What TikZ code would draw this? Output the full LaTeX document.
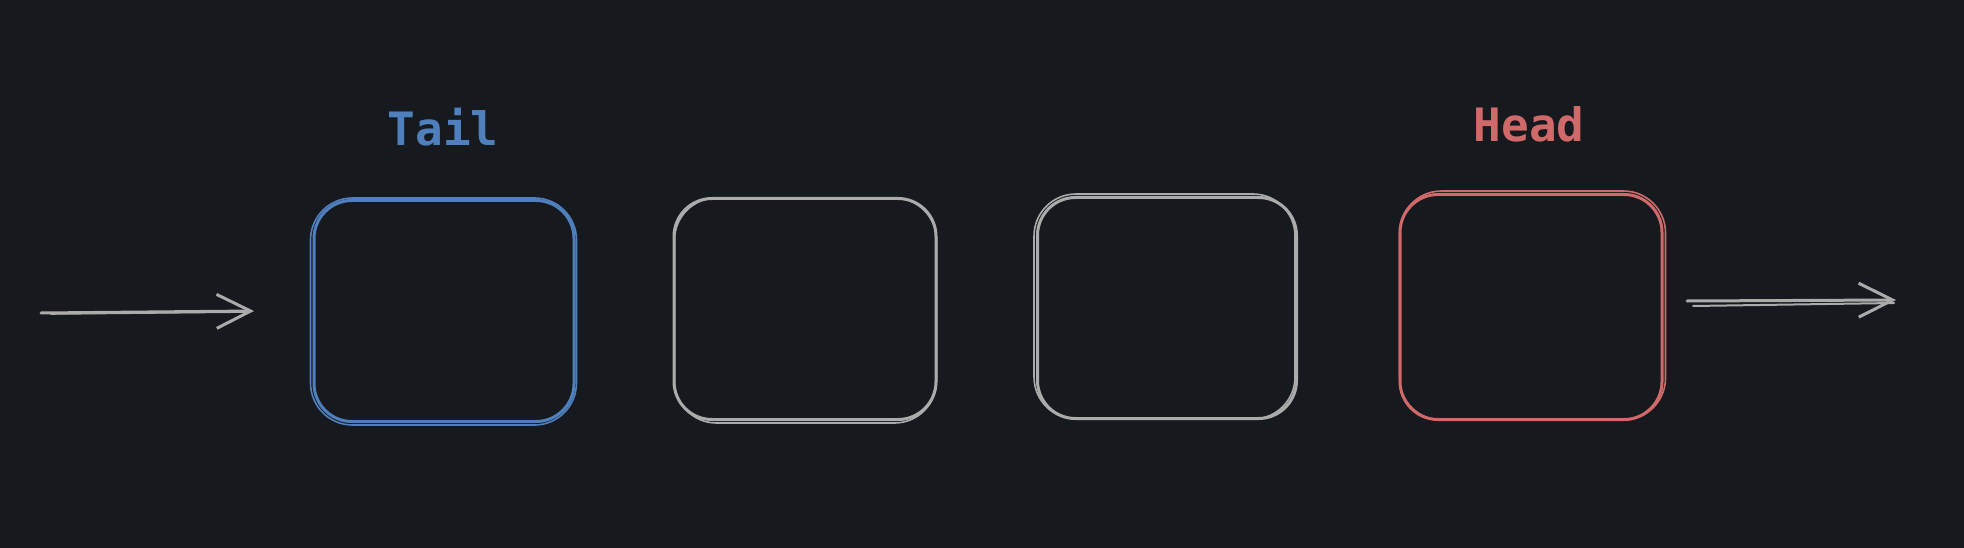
\documentclass[tikz,border=0pt]{standalone}
\usepackage{fontspec}
\newfontfamily\labelfont{DejaVu Sans Mono}
\usetikzlibrary{arrows.meta}
\definecolor{bgc}{HTML}{16191E}
\definecolor{tailblue}{HTML}{4F80BD}
\definecolor{headred}{HTML}{D06A6A}
\definecolor{strokegray}{HTML}{ABABAB}
\begin{document}
\begin{tikzpicture}[x=1pt,y=-1pt,
  cell/.style={draw, line width=3pt, rounded corners=38pt, minimum width=#1, minimum height=221pt, inner sep=0pt, line join=round},
  cell/.default=260pt,
  echo/.style={line width=1.6pt, rounded corners=42pt},
  lbl/.style={font=\labelfont\bfseries\fontsize{46}{56}\selectfont},
  link/.style={line width=3pt, color=strokegray, line cap=round},
  tipped/.style={link, -{Straight Barb[length=34pt,width=34pt,line width=3pt]}}
]
\useasboundingbox[fill=bgc] (0,0) rectangle (1964,548);

% boxes
\node[cell, draw=tailblue] (tail) at (444,311) {};
\node[cell=262pt, draw=strokegray] (b2) at (805,309) {};
\node[cell=259pt, draw=strokegray] (b3) at (1167,308) {};
\node[cell=262pt, draw=headred, minimum height=225pt] (head) at (1531,307) {};

% sketchy second strokes
\draw[echo, tailblue] ([shift={(-2pt,1pt)}]tail.north west) rectangle ([shift={(1pt,-2pt)}]tail.south east);
\draw[echo, strokegray] ([shift={(2pt,-1pt)}]b2.north west) rectangle ([shift={(-1pt,-2pt)}]b2.south east);
\draw[echo, strokegray] ([shift={(-2pt,2pt)}]b3.north west) rectangle ([shift={(-3pt,1pt)}]b3.south east);
\draw[echo, headred] ([shift={(1pt,2pt)}]head.north west) rectangle ([shift={(2pt,1pt)}]head.south east);

% labels
\node[lbl, text=tailblue] (taillbl) at (443,127) {Tail};
\node[lbl, text=headred] (headlbl) at (1529,124) {Head};

% incoming arrow
\coordinate (inS) at (41,313);
\coordinate (inE) at (254,311);
\draw[tipped] (inS) -- (inE);
\draw[link, line width=1.6pt] ([shift={(10pt,-1pt)}]inS) -- ([shift={(-4pt,-1pt)}]inE);

% outgoing arrow
\coordinate (outS) at (1687,301);
\coordinate (outE) at (1896,300);
\draw[tipped] (outS) -- (outE);
\draw[link, line width=2pt] ([shift={(6pt,-5pt)}]outS) -- ([shift={(-2pt,-3pt)}]outE);
\end{tikzpicture}
\end{document}
